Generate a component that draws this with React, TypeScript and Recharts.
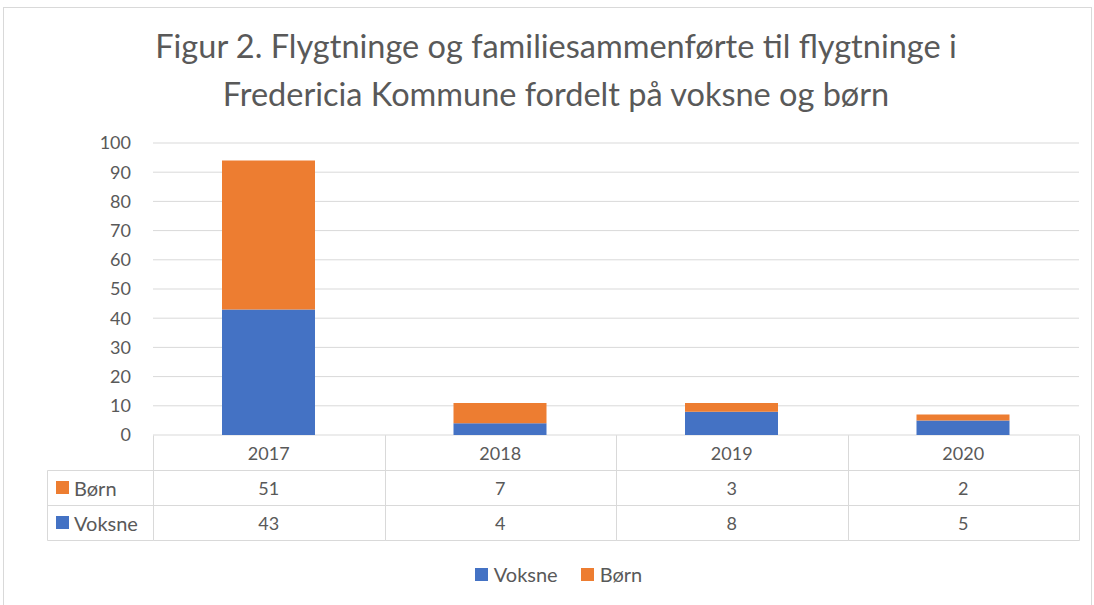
import { Bar, BarChart, CartesianGrid, XAxis, YAxis } from "recharts";

const years = ["2017", "2018", "2019", "2020"];
const voksne = [43, 4, 8, 5];
const born = [51, 7, 3, 2];
const yTicks = [0, 10, 20, 30, 40, 50, 60, 70, 80, 90, 100];

const BLUE = "#4472C4";
const ORANGE = "#ED7D31";
const GRID = "#D9D9D9";
const TEXT = "#595959";
const FONT = "Lato, 'Open Sans', sans-serif";

const W = 1094;
const H = 605;
const M = { top: 143, right: 15, bottom: 65, left: 93 };
const Y_AXIS_W = 60;
const X_AXIS_H = 105;
const PLOT_LEFT = M.left + Y_AXIS_W;
const PLOT_W = W - PLOT_LEFT - M.right;
const BAND = PLOT_W / years.length;
const TABLE_TOP = H - M.bottom - X_AXIS_H;
const ROW_H = 35;
const TABLE_LEFT = 47;

const data = years.map((year, i) => ({ year, Voksne: voksne[i], Børn: born[i] }));

// table rows, top to bottom like the excel data table
const rows = [
    { name: "Børn", values: born, color: ORANGE },
    { name: "Voksne", values: voksne, color: BLUE },
];
const legendItems = [
    { name: "Voksne", color: BLUE },
    { name: "Børn", color: ORANGE },
];

const crisp = (v: number) => Math.round(v) + 0.5;

function TableTick({ x, payload }: any) {
    const i = payload.index;
    const l = crisp(x - BAND / 2);
    const r = crisp(x + BAND / 2);
    const top = crisp(TABLE_TOP);
    const bottom = crisp(TABLE_TOP + ROW_H * 3);
    return (
        <g>
            <line x1={l} x2={l} y1={top} y2={bottom} stroke={GRID} />
            <line x1={r} x2={r} y1={top} y2={bottom} stroke={GRID} />
            {[1, 2, 3].map((k) => (
                <line
                    key={k}
                    x1={l}
                    x2={r}
                    y1={crisp(TABLE_TOP + ROW_H * k)}
                    y2={crisp(TABLE_TOP + ROW_H * k)}
                    stroke={GRID}
                />
            ))}
            <text
                x={x}
                y={TABLE_TOP + ROW_H / 2}
                textAnchor="middle"
                dominantBaseline="central"
                fill={TEXT}
                fontSize={18}
                fontFamily={FONT}
            >
                {payload.value}
            </text>
            {rows.map((row, k) => (
                <text
                    key={row.name}
                    x={x}
                    y={TABLE_TOP + ROW_H * (k + 1.5)}
                    textAnchor="middle"
                    dominantBaseline="central"
                    fill={TEXT}
                    fontSize={18}
                    fontFamily={FONT}
                >
                    {row.values[i]}
                </text>
            ))}
            {i === 0 && (
                <g>
                    <line x1={crisp(TABLE_LEFT)} x2={crisp(TABLE_LEFT)} y1={crisp(TABLE_TOP + ROW_H)} y2={bottom} stroke={GRID} />
                    {[1, 2, 3].map((k) => (
                        <line
                            key={k}
                            x1={crisp(TABLE_LEFT)}
                            x2={l}
                            y1={crisp(TABLE_TOP + ROW_H * k)}
                            y2={crisp(TABLE_TOP + ROW_H * k)}
                            stroke={GRID}
                        />
                    ))}
                    {rows.map((row, k) => (
                        <g key={row.name}>
                            <rect
                                x={TABLE_LEFT + 9}
                                y={TABLE_TOP + ROW_H * (k + 1.5) - 6.5}
                                width={13}
                                height={13}
                                fill={row.color}
                            />
                            <text
                                x={TABLE_LEFT + 27}
                                y={TABLE_TOP + ROW_H * (k + 1.5)}
                                dominantBaseline="central"
                                fill={TEXT}
                                fontSize={20}
                                fontFamily={FONT}
                            >
                                {row.name}
                            </text>
                        </g>
                    ))}
                </g>
            )}
        </g>
    );
}

export default function App() {
    return (
        <div
            style={{
                position: "absolute",
                left: 0,
                top: 0,
                width: W,
                height: H,
                background: "#fff",
                fontFamily: FONT,
                overflow: "hidden",
            }}
        >
            <div
                style={{
                    position: "absolute",
                    left: 3,
                    top: 7,
                    width: 1087,
                    height: 640,
                    border: `1px solid ${GRID}`,
                }}
            />
            <div
                style={{
                    position: "absolute",
                    left: 556,
                    top: 22,
                    transform: "translateX(-50%)",
                    whiteSpace: "nowrap",
                    textAlign: "center",
                    color: TEXT,
                    fontSize: 32.5,
                    lineHeight: "48px",
                }}
            >
                Figur 2. Flygtninge og familiesammenførte til flygtninge i
                <br />
                Fredericia Kommune fordelt på voksne og børn
            </div>
            <div style={{ position: "absolute", left: 0, top: 0 }}>
                <BarChart width={W} height={H} data={data} margin={M}>
                    <CartesianGrid vertical={false} stroke={GRID} />
                    <XAxis
                        dataKey="year"
                        height={X_AXIS_H}
                        axisLine={false}
                        tickLine={false}
                        interval={0}
                        tick={<TableTick />}
                    />
                    <YAxis
                        width={Y_AXIS_W}
                        domain={[0, 100]}
                        ticks={yTicks}
                        axisLine={false}
                        tickLine={false}
                        tickMargin={16}
                        tick={{ fill: TEXT, fontSize: 18, fontFamily: FONT }}
                    />
                    <Bar dataKey="Voksne" stackId="a" fill={BLUE} barSize={93} isAnimationActive={false} />
                    <Bar dataKey="Børn" stackId="a" fill={ORANGE} barSize={93} isAnimationActive={false} />
                </BarChart>
            </div>
            <div
                style={{
                    position: "absolute",
                    top: 562,
                    left: 0,
                    width: W,
                    display: "flex",
                    justifyContent: "center",
                    gap: 23,
                    paddingLeft: 23,
                    boxSizing: "border-box",
                    color: TEXT,
                    fontSize: 20,
                }}
            >
                {legendItems.map((item) => (
                    <div key={item.name} style={{ display: "flex", alignItems: "center", gap: 6 }}>
                        <span style={{ width: 13, height: 13, background: item.color, display: "inline-block" }} />
                        <span>{item.name}</span>
                    </div>
                ))}
            </div>
        </div>
    );
}
